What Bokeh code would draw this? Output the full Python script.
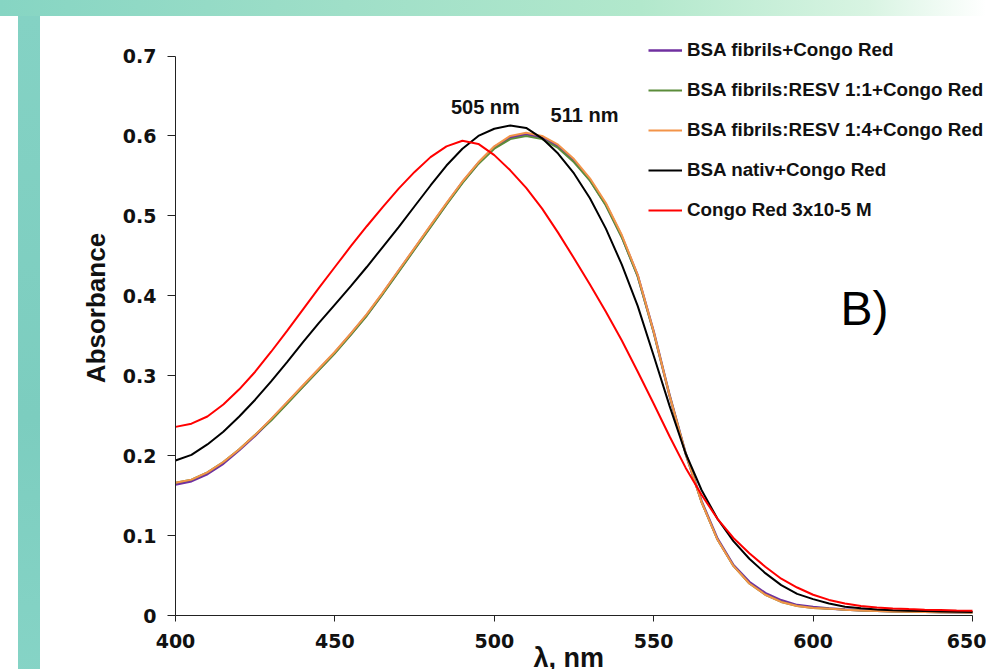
from bokeh.plotting import figure
from bokeh.models import (Legend, LegendItem, Label, FixedTicker, Title,
                          CustomJSTickFormatter, Range1d)
from bokeh.embed import file_html
from bokeh.resources import INLINE

# Wavelength grid (nm)
wavelength = list(range(400, 655, 5))

# Absorbance spectra
bsa_fibrils_cr = [
    0.164, 0.168, 0.177, 0.190, 0.207, 0.225, 0.245, 0.266, 0.287, 0.308,
    0.329, 0.352, 0.376, 0.403, 0.431, 0.459, 0.487, 0.515, 0.542, 0.566,
    0.586, 0.598, 0.602, 0.598, 0.587, 0.569, 0.545, 0.514, 0.474, 0.425,
    0.355, 0.275, 0.203, 0.143, 0.096, 0.063, 0.042, 0.028, 0.019, 0.013,
    0.0105, 0.0089, 0.0075, 0.0065, 0.0058, 0.0053, 0.0049, 0.0046, 0.0044, 0.0042,
    0.0041,
]
bsa_fibrils_resv_11_cr = [
    0.166, 0.170, 0.179, 0.192, 0.208, 0.226, 0.244, 0.265, 0.286, 0.307,
    0.328, 0.351, 0.375, 0.402, 0.430, 0.458, 0.486, 0.514, 0.541, 0.565,
    0.584, 0.596, 0.600, 0.596, 0.585, 0.567, 0.544, 0.513, 0.473, 0.424,
    0.354, 0.275, 0.203, 0.142, 0.095, 0.062, 0.040, 0.026, 0.017, 0.012,
    0.0095, 0.0086, 0.0073, 0.0063, 0.0056, 0.0051, 0.0047, 0.0044, 0.0042, 0.0040,
    0.0039,
]
bsa_fibrils_resv_14_cr = [
    0.166, 0.170, 0.179, 0.192, 0.208, 0.226, 0.246, 0.267, 0.288, 0.309,
    0.330, 0.353, 0.377, 0.404, 0.432, 0.460, 0.488, 0.516, 0.543, 0.567,
    0.587, 0.600, 0.604, 0.600, 0.589, 0.571, 0.547, 0.516, 0.476, 0.426,
    0.355, 0.275, 0.203, 0.142, 0.095, 0.062, 0.040, 0.026, 0.017, 0.012,
    0.0095, 0.0086, 0.0073, 0.0063, 0.0056, 0.0051, 0.0047, 0.0044, 0.0042, 0.0040,
    0.0039,
]
bsa_native_cr = [
    0.194, 0.201, 0.214, 0.230, 0.249, 0.270, 0.293, 0.317, 0.342, 0.366,
    0.389, 0.412, 0.436, 0.461, 0.486, 0.512, 0.538, 0.563, 0.584, 0.600,
    0.609, 0.613, 0.610, 0.597, 0.578, 0.553, 0.522, 0.484, 0.439, 0.387,
    0.325, 0.262, 0.203, 0.157, 0.121, 0.093, 0.071, 0.053, 0.038, 0.027,
    0.0205, 0.015, 0.011, 0.009, 0.0075, 0.0067, 0.0060, 0.0055, 0.0050, 0.0047,
    0.0045,
]
congo_red = [
    0.236, 0.240, 0.249, 0.264, 0.283, 0.305, 0.330, 0.356, 0.383, 0.410,
    0.436, 0.462, 0.487, 0.511, 0.534, 0.555, 0.5735, 0.587, 0.594, 0.590,
    0.576, 0.557, 0.535, 0.509, 0.479, 0.447, 0.414, 0.380, 0.344, 0.305,
    0.265, 0.224, 0.185, 0.151, 0.121, 0.097, 0.078, 0.061, 0.046, 0.035,
    0.026, 0.0195, 0.015, 0.012, 0.010, 0.0088, 0.008, 0.0073, 0.0068, 0.0063,
    0.006,
]

series_names = [
    "BSA fibrils+Congo Red",
    "BSA fibrils:RESV 1:1+Congo Red",
    "BSA fibrils:RESV 1:4+Congo Red",
    "BSA nativ+Congo Red",
    "Congo Red 3x10-5 M",
]
series_values = [bsa_fibrils_cr, bsa_fibrils_resv_11_cr, bsa_fibrils_resv_14_cr,
                 bsa_native_cr, congo_red]
series_colors = ["#7030A0", "#5B8C3A", "#F39449", "#000000", "#FF0000"]
series_widths = [2.5, 2, 2, 2, 2]

y_ticks = [0.0, 0.1, 0.2, 0.3, 0.4, 0.5, 0.6, 0.7]
x_ticks = [400, 450, 500, 550, 600, 650]

peak_labels = ["505 nm", "511 nm"]

BOLD_FONT = "Liberation Sans"
TICK_FONT = "DejaVu Sans"

# Canvas geometry: the plotting frame reaches the right and top edges of the
# canvas so the legend and notes are not clipped; the axes are bounded to the
# data extent.
W, H = 986, 669
FRAME_LEFT, FRAME_BOTTOM = 175, 54
X1_PX = 972                      # pixel position of 650 nm
Y0_PX, Y7_PX = 615, 55.5         # pixel positions of 0 and 0.7
px_per_nm = (X1_PX - FRAME_LEFT) / (x_ticks[-1] - x_ticks[0])
px_per_abs = (Y0_PX - Y7_PX) / y_ticks[-1]
x_end = x_ticks[0] + (W - FRAME_LEFT) / px_per_nm
y_end = Y0_PX / px_per_abs

p = figure(width=W, height=H, output_backend="svg", toolbar_location=None,
           x_range=Range1d(x_ticks[0], x_end), y_range=Range1d(0, y_end),
           min_border_left=FRAME_LEFT, min_border_right=0,
           min_border_top=0, min_border_bottom=FRAME_BOTTOM)

p.background_fill_alpha = 0
p.border_fill_alpha = 0
p.outline_line_color = None
p.grid.visible = False
p.styles = {
    "background": (
        "linear-gradient(to right, #86d5c3 0%, #9fdfc8 35%, #b2e8cc 65%, "
        "#d8f4e2 88%, #ffffff 100%) 0 0 / 100% 16px no-repeat, "
        "linear-gradient(to bottom, #84d2c4, #7ccdbf 60%, #86d4c6) "
        "18px 16px / 22px 100% no-repeat, #ffffff"
    )
}

renderers = []
for vals, col, lw in zip(series_values, series_colors, series_widths):
    r = p.line(wavelength, vals, line_color=col, line_width=lw)
    renderers.append(r)

# Axes
for ax in (p.xaxis[0], p.yaxis[0]):
    ax.axis_line_color = "#222222"
    ax.axis_line_width = 1
    ax.major_tick_line_color = "#222222"
    ax.major_tick_in = 0
    ax.minor_tick_line_color = None
    ax.major_label_text_font = TICK_FONT
    ax.major_label_text_font_style = "bold"
    ax.major_label_text_font_size = "19px"
    ax.major_label_text_color = "#111111"

p.yaxis.ticker = FixedTicker(ticks=y_ticks)
p.yaxis.formatter = CustomJSTickFormatter(
    code="return Math.abs(tick) < 1e-9 ? '0' : tick.toFixed(1);")
p.yaxis.bounds = (y_ticks[0], y_ticks[-1])
p.yaxis.major_tick_out = 8
p.yaxis.major_label_standoff = 11
p.yaxis.axis_label = "Absorbance"
p.yaxis.axis_label_text_font = BOLD_FONT
p.yaxis.axis_label_text_font_style = "bold"
p.yaxis.axis_label_text_color = "#111111"
p.yaxis.axis_label_text_font_size = "26px"
p.yaxis.axis_label_standoff = 9

p.xaxis.ticker = FixedTicker(ticks=x_ticks)
p.xaxis.bounds = (x_ticks[0], x_ticks[-1])
p.xaxis.major_tick_out = 6
p.xaxis.major_label_standoff = 12

# X axis title, tucked under the tick labels at the bottom edge
p.add_layout(Title(text="λ, nm", align="left", vertical_align="middle",
                   offset=358, standoff=-17, text_font=BOLD_FONT,
                   text_font_style="bold", text_font_size="27px",
                   text_color="#111111"), "below")

# Peak annotations
p.add_layout(Label(x=497.2, y=0.6228, text=peak_labels[0], text_font=BOLD_FONT,
                   text_font_style="bold", text_font_size="20px",
                   text_color="#111111", text_align="center"))
p.add_layout(Label(x=528.3, y=0.613, text=peak_labels[1], text_font=BOLD_FONT,
                   text_font_style="bold", text_font_size="20px",
                   text_color="#111111", text_align="center"))

# Panel letter
p.add_layout(Label(x=608.6, y=0.3504, text="B)", text_font="Liberation Sans",
                   text_font_size="48px", text_color="#000000"))

legend = Legend(
    items=[LegendItem(label=n, renderers=[r]) for n, r in zip(series_names, renderers)],
    location=(648 - FRAME_LEFT, 394), orientation="vertical",
    glyph_width=34, glyph_height=22, label_height=22, spacing=18,
    padding=0, margin=0, label_standoff=5,
    border_line_alpha=0, background_fill_alpha=0,
    label_text_font=BOLD_FONT, label_text_font_style="bold",
    label_text_font_size="18.8px", label_text_color="#111111",
)
p.add_layout(legend)

open("out.html", "w").write(file_html(p, INLINE))
